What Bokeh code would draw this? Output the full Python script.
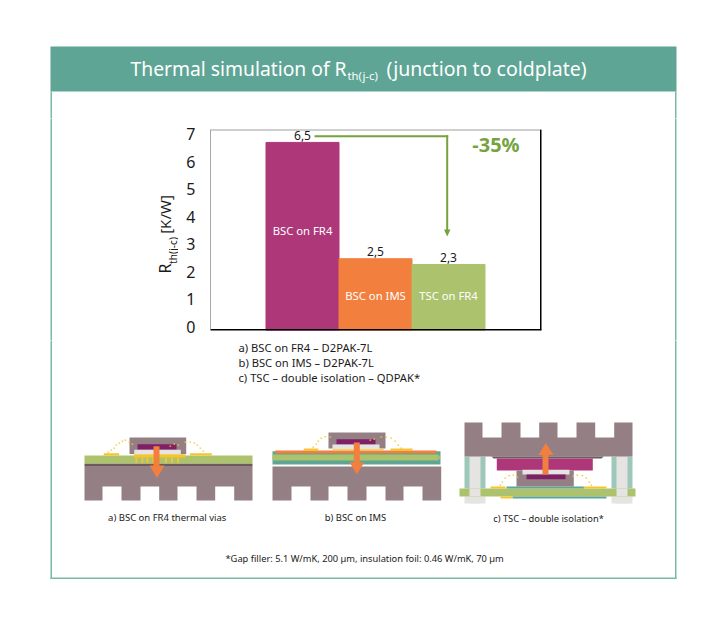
import math
from bokeh.embed import file_html
from bokeh.resources import INLINE
from bokeh.plotting import figure
from bokeh.layouts import column, row
from bokeh.models import Range1d, LinearAxis, FixedTicker, ColumnDataSource, Span
from bokeh.core.properties import value

# ---- data ----
categories = ["BSC on FR4", "BSC on IMS", "TSC on FR4"]
bar_index = [1, 2, 3]
rth_values = [6.55, 2.5, 2.3]
value_labels = ["6,5", "2,5", "2,3"]
bar_label_y = [3.5, 1.22, 1.22]
bar_colors = ["#ad3778", "#f27f3d", "#acc26d"]
y_ticks = [0, 1, 2, 3, 4, 5, 6, 7]
grid_ticks = [1, 2, 3, 4, 5, 6]
legend_lines = ["a) BSC on FR4 – D2PAK-7L", "b) BSC on IMS – D2PAK-7L", "c) TSC – double isolation – QDPAK*"]

FONT = "Noto Sans"
W, H = 718, 631
TEAL_H, TEAL_B = "#5ea595", "#7ab8a8"
GRN = "#76a33f"; GREY = "#948084"; DARK = "#6b5a5e"; BOARD = "#acc26d"; GOLD = "#f5c530"
MAG = "#ad3778"; DMAG = "#7f1f66"; LIGHT = "#e6e3e3"; ORG = "#f27f3d"; TEAL = "#5ea595"; PIL = "#9cc7ba"

# layout bands, in page pixels
CY0, CY1 = 118, 340          # chart row
LX, RX = 178, 542            # chart column
L, R, T, B = 210, 541, 129, 330


class Sheet:
    """A figure, or a set of its ranges, addressed in page pixels."""

    def __init__(self, fig, **names):
        self.f, self.kw = fig, names

    def box(self, x0, y0, x1, y1, c):
        self.f.quad(left=[x0], right=[x1], top=[y0], bottom=[y1], fill_color=c, line_color=None, **self.kw)

    def poly(self, pts, c):
        self.f.patch([a for a, _ in pts], [b for _, b in pts], fill_color=c, line_color=None, **self.kw)

    def text(self, x, y, s, size, color="#1a1a1a", align="left", bold=False, angle=0):
        self.f.text([x], [y], text=[s], text_font=value(FONT), text_font_size=f"{size}px",
                    text_color=color, text_align=align, text_baseline="middle",
                    angle=math.radians(angle), text_font_style="bold" if bold else "normal", **self.kw)

    def dots(self, pts, c=GOLD):
        for a, b in pts:
            self.box(a, b, a + 1.6, b + 1.2, c)


def panel(x0, y0, x1, y1):
    f = figure(width=x1 - x0, height=y1 - y0, output_backend="svg", toolbar_location=None,
               x_range=Range1d(x0, x1), y_range=Range1d(y1, y0), x_axis_type=None, y_axis_type=None,
               min_border=0, min_border_left=0, min_border_right=0, min_border_top=0, min_border_bottom=0)
    f.outline_line_color = None
    f.xgrid.visible = False
    f.ygrid.visible = False
    f.border_fill_color = "white"
    f.frame_align = False
    return Sheet(f)


# ---- chart ----
p = figure(width=RX - LX, height=CY1 - CY0, output_backend="svg", toolbar_location=None,
           x_range=Range1d(1 + (L - 302) / 73, 1 + (R - 302) / 73), y_range=Range1d(0, 7),
           min_border_left=L - LX, min_border_right=RX - R, min_border_top=T - CY0,
           min_border_bottom=CY1 - B, x_axis_type=None, y_axis_type=None)
p.frame_align = False
p.outline_line_color = None
p.xgrid.visible = False
p.ygrid.ticker = FixedTicker(ticks=grid_ticks)
p.ygrid.grid_line_color = "#dcdcdc"
p.ygrid.grid_line_width = 1

p.extra_y_ranges = {"labels": Range1d(-(B - 326) / 27.43, 7 + (134 - T) / 27.43), "py": Range1d(B, T)}
p.extra_x_ranges = {"px": Range1d(L, R)}
ax = LinearAxis(y_range_name="labels", ticker=FixedTicker(ticks=y_ticks))
ax.major_tick_line_color = None
ax.minor_tick_line_color = None
ax.axis_line_color = "#a8a8a8"
ax.major_label_text_font = FONT
ax.major_label_text_font_size = "16px"
ax.major_label_text_color = "#1a1a1a"
ax.major_label_standoff = 9
p.add_layout(ax, "left")

src = ColumnDataSource(dict(x=bar_index, top=rth_values, color=bar_colors, lab=value_labels,
                            name=categories, ly=bar_label_y))
p.vbar(x="x", top="top", bottom=0, width=1.0, color="color", source=src)
p.text(x="x", y="top", text="lab", source=src, text_align="center", text_baseline="middle",
       y_offset=-7, text_font=value(FONT), text_font_size="12px", text_color="#1a1a1a")
p.text(x="x", y="ly", text="name", source=src, text_align="center", text_baseline="middle",
       text_font=value(FONT), text_font_size="11.3px", text_color="white")
# the frame clips these edge lines to half their width
p.add_layout(Span(location=0, dimension="width", line_color="black", line_width=3))
p.add_layout(Span(location=7, dimension="width", line_color="#a0a0a0", line_width=2))
p.add_layout(Span(location=p.x_range.end, dimension="height", line_color="black", line_width=3))

c = Sheet(p, x_range_name="px", y_range_name="py")
c.box(314, 134.7, 447.7, 136.7, GRN)
c.box(445.7, 134.7, 447.7, 230, GRN)
c.poly([(443.5, 229), (450, 229), (446.7, 236)], GRN)
c.text(495.5, 144, "-35%", 20, GRN, "center", True)

# ---- header ----
t = panel(0, 0, W, CY0)
t.box(50, 46, 676, 91, TEAL_H)
t.box(50, 91, 51.5, CY0 + 3, TEAL_B)
t.box(674.5, 91, 676, CY0 + 3, TEAL_B)
t.text(130, 68, "Thermal simulation of R", 19.3, "white")
t.text(347, 75, "th(j-c)", 11.3, "white")
t.text(386, 68, "(junction to coldplate)", 19.5, "white")

# ---- left and right margins of the chart row ----
lf = panel(0, CY0, LX, CY1)
lf.box(50, CY0 - 3, 51.5, CY1 + 3, TEAL_B)
lf.text(164, 268, "R", 16, align="center", angle=90)
lf.text(172, 250, "th(j-c)", 10, align="center", angle=90)
lf.text(164, 214, "[K/W]", 15, align="center", angle=90)

rg = panel(RX, CY0, W, CY1)
rg.box(674.5, CY0 - 3, 676, CY1 + 3, TEAL_B)

# ---- lower part ----
d = panel(0, CY1, W, H)
d.box(50, CY1 - 3, 51.5, 578.5, TEAL_B)
d.box(674.5, CY1 - 3, 676, 578.5, TEAL_B)
d.box(50, 577, 676, 578.5, TEAL_B)
for line, yy in zip(legend_lines, [346.7, 361.7, 377]):
    d.text(238, yy, line, 11.2)


def sink(x0, x1, y0, y1, notches, ny0, ny1):
    d.box(x0, y0, x1, y1, GREY)
    for a, b in notches:
        d.box(a, ny0, b, ny1 + 1, "white")


# diagram a
d.box(84, 455, 252, 463.3, BOARD)
d.box(84, 463.3, 252, 465.5, DARK)
sink(84, 252, 465.5, 500, [(102, 121), (140, 158.7), (177, 196), (214.7, 233.7)], 486, 500)
d.box(129, 437, 185.7, 453.5, GREY)
d.box(137, 443.7, 176, 449.3, DMAG)
d.box(133.7, 449.3, 180.3, 453.7, LIGHT)
d.box(133.3, 453.7, 185, 457, GOLD)
for vx in [135, 141, 146, 152, 164.5, 170.5, 176.5]:
    d.box(vx, 457, vx + 1.8, 462.7, GOLD)
d.box(103.3, 452.7, 118.7, 455, GOLD)
d.box(189.3, 452.7, 211.3, 455, GOLD)
d.dots([(107, 451), (110, 449), (113, 447), (115, 444), (118, 442), (121, 440), (124, 439), (128, 441), (131, 443)])
d.dots([(169, 445), (173, 443), (177, 444), (184, 441), (189, 441), (193, 442), (196, 444), (199, 447), (202, 450)])
d.box(153, 445.7, 159, 465.5, ORG)
d.poly([(149, 465), (164, 465), (156.5, 477.5)], ORG)
d.text(166.7, 516.7, "a) BSC on FR4 thermal vias", 9.5, align="center")

# diagram b
d.box(272, 450.7, 440, 464, TEAL)
d.box(272, 454, 438, 460, BOARD)
d.poly([(438, 454), (440, 457), (438, 460)], BOARD)
d.box(274.7, 450, 436, 453, ORG)
sink(272, 440.7, 466, 500, [(291, 310), (328, 347), (366, 385), (403, 422)], 486, 500)
d.box(303.3, 448, 317.7, 450.3, GOLD)
d.box(390, 448, 412, 450.3, GOLD)
d.box(328, 432, 385, 448, GREY)
d.box(336, 438.7, 375, 444, DMAG)
d.box(332, 444, 379, 448.7, LIGHT)
d.box(332, 448.7, 383.3, 450, GOLD)
d.dots([(312, 446), (315, 443), (317, 440), (320, 437), (324, 435.5), (329, 436)])
d.dots([(369, 439), (373, 438), (380, 436), (385, 436), (390, 437), (394, 440), (397, 444), (400, 447)])
d.box(353.3, 442, 359.3, 462, ORG)
d.poly([(349, 461.7), (363.7, 461.7), (356.3, 474)], ORG)
d.text(355, 517, "b) BSC on IMS", 9.4, align="center")

# diagram c
for x0, x1, x2, x3 in [(464, 469, 480, 485), (611, 616, 627, 632)]:
    d.box(x0, 456, x3, 488, PIL)
    d.box(x1, 454, x2, 503, LIGHT)
    d.box(x0, 496, x3, 503, LIGHT)
d.box(459, 488, 635, 496, BOARD)
for x1, x2 in [(469, 480), (616, 627)]:
    d.box(x1, 488, x2, 496, LIGHT)
d.box(490, 486, 505, 488, GOLD)
d.box(583.3, 486, 606, 488, GOLD)
d.box(506, 486, 583.3, 488, TEAL)
d.box(512, 496, 606, 498, TEAL)
d.box(500, 496, 512, 498, GOLD)
sink(464, 632, 422, 456, [(482, 501), (520, 538.7), (557, 576), (594.7, 613.7)], 421, 436)
d.poly([(491, 456), (603.3, 456), (601, 458), (493, 458)], DARK)
d.box(496.3, 458, 592.3, 470, MAG)
d.box(516, 470, 573.3, 486, GREY)
d.box(522, 469.3, 569, 474, LIGHT)
d.box(526, 474, 565, 478.7, DMAG)
d.dots([(499, 484), (501, 481), (504, 477), (508, 474.5), (512, 474), (516, 476)])
d.dots([(572, 475), (576, 474), (581, 474.5), (585, 477), (588, 481), (590, 484)])
d.box(542, 454, 548, 474, ORG)
d.poly([(538, 454.5), (553, 454.5), (545.3, 442.5)], ORG)
d.text(548, 517.7, "c) TSC – double isolation*", 9.3, align="center")

d.text(225, 558, "*Gap filler: 5.1 W/mK, 200 µm, insulation foil: 0.46 W/mK, 70 µm", 9.3)

page = column(t.f, row(lf.f, p, rg.f, spacing=0), d.f, spacing=0)
open("out.html", "w").write(file_html(page, INLINE))
